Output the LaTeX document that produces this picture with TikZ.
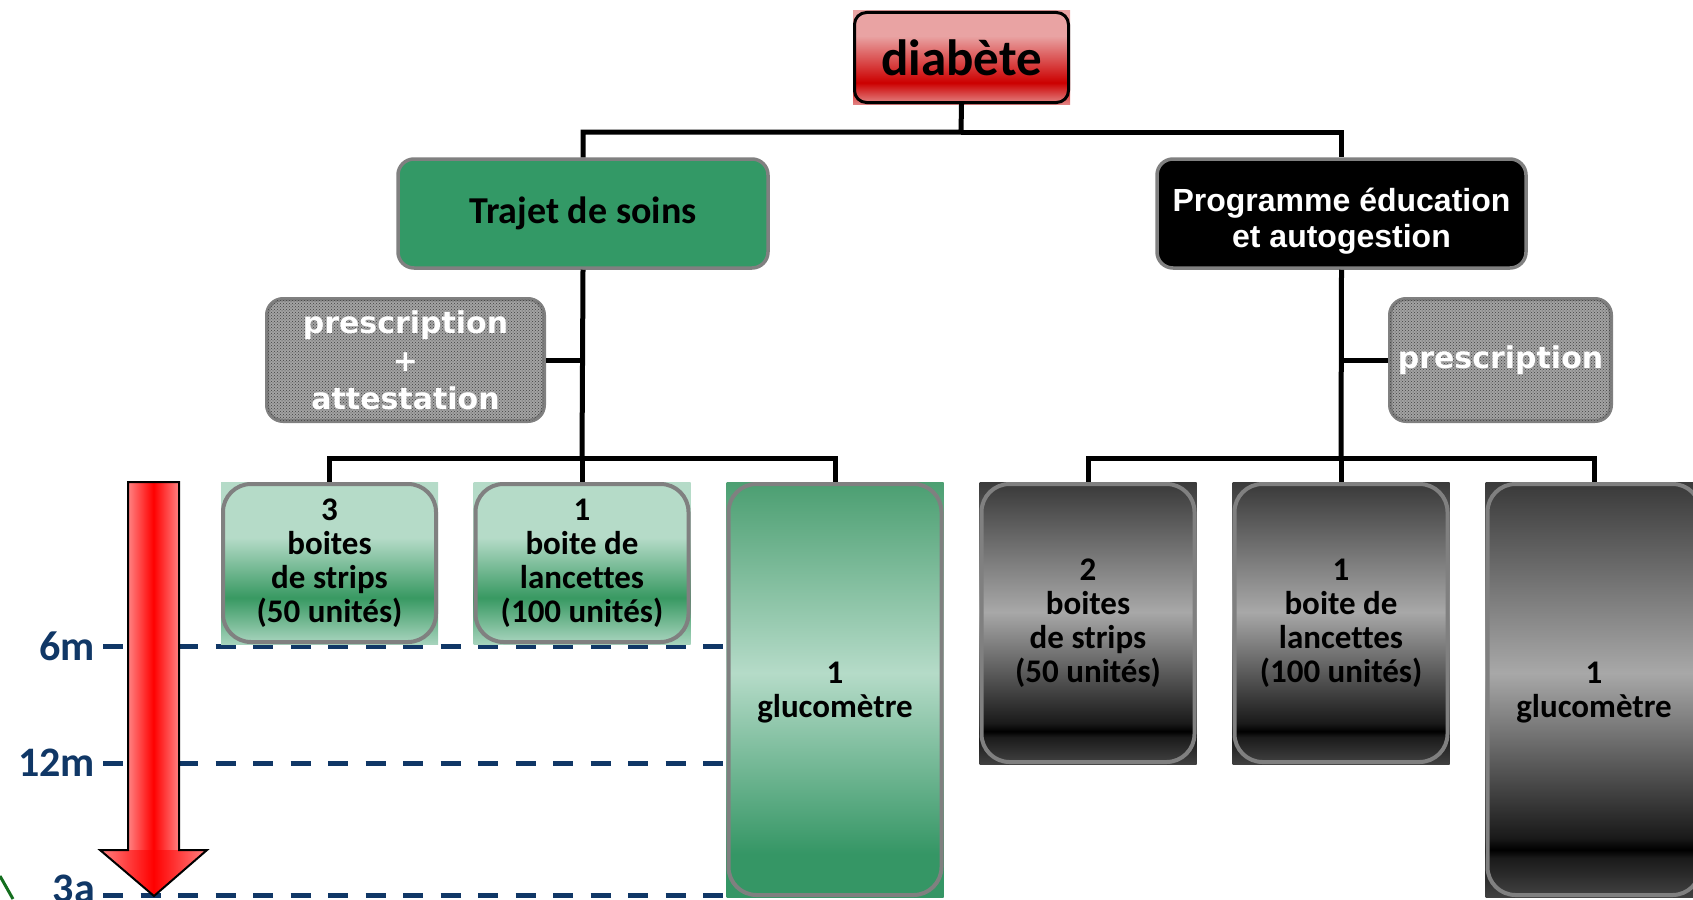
\documentclass[tikz,border=0pt]{standalone}
\usepackage{fontspec}
\setmainfont{Carlito}[Ligatures=NoCommon]
\newfontfamily\arialfont{Liberation Sans}
\newfontfamily\verdfont{DejaVu Sans}
\usetikzlibrary{positioning,backgrounds,patterns}

\definecolor{boxgray}{RGB}{128,128,128}
\definecolor{soingreen}{RGB}{51,153,102}
\definecolor{navy}{RGB}{16,55,102}
\definecolor{redlight}{RGB}{255,130,130}
\definecolor{darkgreen}{RGB}{20,110,30}
\definecolor{gA}{RGB}{181,219,200}
\definecolor{gB}{RGB}{56,153,98}
\definecolor{gC}{RGB}{166,211,188}
\definecolor{gD}{RGB}{76,159,114}
\definecolor{gE}{RGB}{53,150,101}
\definecolor{kA}{RGB}{58,58,58}
\definecolor{kB}{RGB}{168,168,168}
\definecolor{kC}{RGB}{26,26,26}
\definecolor{kD}{RGB}{0,0,0}
\definecolor{kE}{RGB}{64,64,64}
\definecolor{rA}{RGB}{233,163,163}
\definecolor{rB}{RGB}{204,0,0}
\definecolor{rC}{RGB}{226,128,128}

\pgfdeclareverticalshading{redshade}{100bp}{color(0bp)=(rC); color(25bp)=(rC); color(36bp)=(rB); color(62bp)=(rA); color(100bp)=(rA)}
\pgfdeclareverticalshading{greensmall}{100bp}{color(0bp)=(gC); color(25bp)=(gC); color(39bp)=(gB); color(58bp)=(gA); color(100bp)=(gA)}
\pgfdeclareverticalshading{greenbig}{100bp}{color(0bp)=(gE); color(30bp)=(gE); color(52bp)=(gA); color(75bp)=(gD); color(100bp)=(gD)}
\pgfdeclareverticalshading{greyshade}{100bp}{color(0bp)=(kE); color(25bp)=(kE); color(29.5bp)=(kC); color(30.5bp)=(kD); color(32bp)=(kC); color(52bp)=(kB); color(75bp)=(kA); color(100bp)=(kA)}

\tikzset{
  link/.style={line width=5pt},
  item/.style={draw=boxgray,line width=4pt,rounded corners=28pt,minimum width=213pt,inner sep=0pt,align=center,anchor=north,font=\bfseries\fontsize{33}{34}\selectfont},
  greybox/.style={draw=boxgray,line width=4pt,rounded corners=16pt,minimum height=122pt,inner sep=0pt,align=center,text=white,fill=black!36,postaction={pattern=crosshatch dots,pattern color=black!75},font=\verdfont\bfseries\fontsize{30}{38}\selectfont},
  tick/.style={anchor=east,inner sep=0pt,text=navy,font=\bfseries\fontsize{42}{42}\selectfont},
  timeline/.style={navy,line width=5pt,dash pattern=on 20pt off 17.5pt}
}

\begin{document}
\begin{tikzpicture}[x=1pt,y=-1pt]
  \useasboundingbox (0,0) rectangle (1693,899);
  \node (dia) at (961.5,57.5) [draw=black,line width=3pt,rounded corners=12pt,minimum width=214pt,minimum height=90pt,shading=redshade,font=\bfseries\fontsize{51}{51}\selectfont]{diabète};
  \node (soin) at (583,213.5) [draw=boxgray,line width=3.5pt,rounded corners=16pt,minimum width=370pt,minimum height=109pt,fill=soingreen,font=\bfseries\fontsize{38}{38}\selectfont]{Trajet de soins};
  \node (prog) at (1341.5,213.5) [draw=boxgray,line width=3.5pt,rounded corners=16pt,minimum width=369pt,minimum height=109pt,fill=black,label={[yshift=-8pt,text=white,align=center,font=\arialfont\bfseries\fontsize{32}{36}\selectfont]center:Programme éducation\\et autogestion}]{};
  \node (pa) at (405.5,360) [greybox,minimum width=277pt]{prescription\\+\\attestation};
  \node (pr) at (1500.5,360) [greybox,minimum width=221pt]{prescription};

  \node (s1) at (329.5,482) [item,minimum height=158pt,shading=greensmall]{3\\boites\\de strips\\(50 unités)};
  \node (s2) at (582,482) [item,minimum height=158pt,shading=greensmall]{1\\boite de\\lancettes\\(100 unités)};
  \node (s3) at (835,482) [item,minimum height=411pt,shading=greenbig,text depth=-4pt]{1\\glucomètre};
  \node (r1) at (1088,482) [item,minimum height=278pt,shading=greyshade]{2\\boites\\de strips\\(50 unités)};
  \node (r2) at (1341,482) [item,minimum height=278pt,shading=greyshade]{1\\boite de\\lancettes\\(100 unités)};
  \node (r3) at (1594,482) [item,minimum height=411pt,shading=greyshade,text depth=-4pt]{1\\glucomètre};

  \node (t6) at (95,646) [tick]{6m};
  \node (t12) at (95,763) [tick]{12m};
  \node (t3a) at (95,889) [tick]{3a};
  \coordinate (d6) at (103,646);
  \coordinate (d12) at (103,763);
  \coordinate (d3a) at (103,895);
  \coordinate (jt) at (961,132);
  \coordinate (jl) at (582,458);
  \coordinate (jr) at (1341,458);

  \begin{scope}[on background layer]
    \draw[timeline] (d6) -- (d6 -| s3.west);
    \draw[timeline] (d12) -- (d12 -| s3.west);
    \draw[timeline] (d3a) -- (d3a -| s3.west);
    \shade[shading=redshade] (dia.south west) rectangle (dia.north east);
    \foreach \n/\s in {s1/greensmall,s2/greensmall,s3/greenbig,r1/greyshade,r2/greyshade,r3/greyshade}
      \shade[shading=\s] (\n.south west) rectangle (\n.north east);
  \end{scope}

  \draw[link] (dia.south) -- (jt) -| (soin.north);
  \draw[link] (jt) -| (prog.north);
  \draw[link] (soin.south) -- (jl);
  \draw[link] (jl) -| (s1.north);
  \draw[link] (jl) -| (s3.north);
  \draw[link] (jl) -- (s2.north);
  \draw[link] (pa.east) -- (pa.east -| jl);
  \draw[link] (prog.south) -- (jr);
  \draw[link] (jr) -| (r1.north);
  \draw[link] (jr) -| (r3.north);
  \draw[link] (jr) -- (r2.north);
  \draw[link] (pr.west) -- (pr.west -| jr);

  \shade[left color=redlight,right color=redlight,middle color=red] (128,482) rectangle (179,851);
  \shade[left color=redlight,right color=redlight,middle color=red] (100,850) -- (207,850) -- (154,896) -- cycle;
  \draw[line width=2pt,line join=miter] (128,482) -- (179,482) -- (179,850) -- (207,850) -- (154,896) -- (100,850) -- (128,850) -- cycle;
  \draw[darkgreen,line width=3pt] (0,876) -- (13,899);
\end{tikzpicture}
\end{document}
